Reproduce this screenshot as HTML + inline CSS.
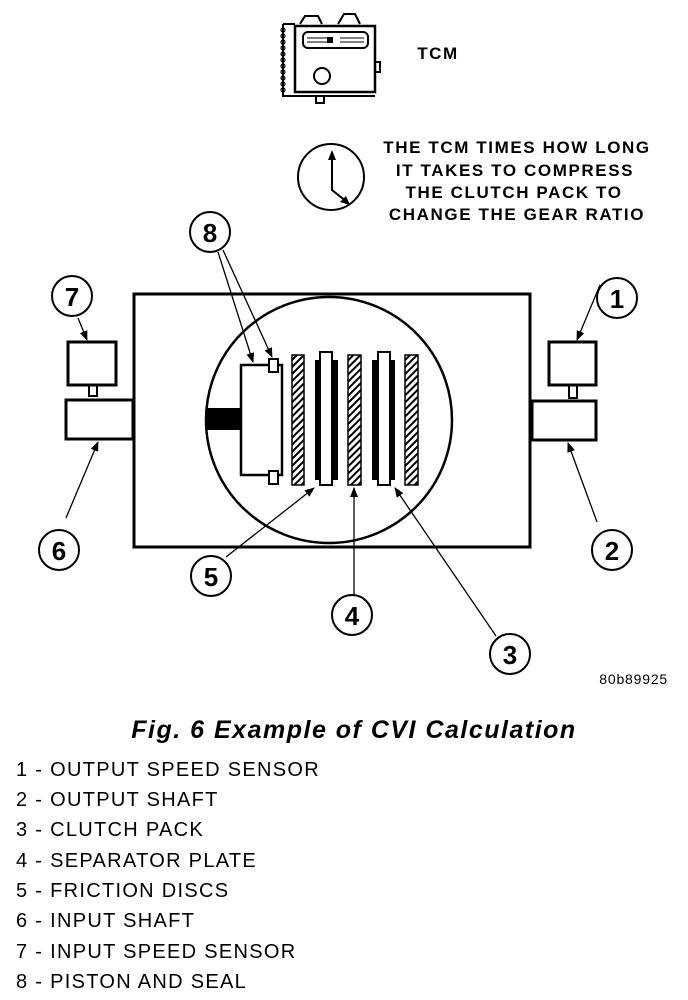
<!DOCTYPE html>
<html><head><meta charset="utf-8"><style>
body{margin:0;background:#fff;width:688px;height:1000px;overflow:hidden;font-family:"Liberation Sans",Arial,sans-serif}
svg{position:absolute;left:0;top:0}
.l{position:absolute;left:16px;font-size:20px;color:#000;letter-spacing:1.3px}
</style></head><body>
<svg width="688" height="1000" viewBox="0 0 688 1000">
<defs>
<pattern id="h" width="5" height="5" patternUnits="userSpaceOnUse" patternTransform="rotate(45)"><rect width="5" height="5" fill="#fff"/><rect width="2" height="5" fill="#000"/></pattern>
<marker id="a" markerWidth="10" markerHeight="8" refX="9" refY="4" orient="auto" markerUnits="userSpaceOnUse"><path d="M0,0 L10,4 L0,8 Z" fill="#000"/></marker>
</defs>
<g fill="none" stroke="#000" stroke-width="2">
<rect x="295" y="26" width="80" height="66" stroke-width="2.5"/>
<path d="M283,24 H295 M283,24 V96 H295 M295,96 H375 M300,24 L305,16 H318 L322,24 M338,24 L344,14 H355 L360,24 M375,62 h5 v10 h-5 M316,96 v7 h8 v-7"/>
<g stroke-width="1.2"><circle cx="283" cy="30" r="2"/><circle cx="283" cy="36" r="2"/><circle cx="283" cy="42" r="2"/><circle cx="283" cy="48" r="2"/><circle cx="283" cy="54" r="2"/><circle cx="283" cy="60" r="2"/><circle cx="283" cy="66" r="2"/><circle cx="283" cy="72" r="2"/><circle cx="283" cy="78" r="2"/><circle cx="283" cy="84" r="2"/><circle cx="283" cy="90" r="2"/></g>
<rect x="303" y="32" width="65" height="16" rx="5"/>
<line x1="307" y1="38" x2="330" y2="38" stroke-width="1"/><line x1="340" y1="38" x2="364" y2="38" stroke-width="1"/>
<line x1="307" y1="42" x2="330" y2="42" stroke-width="1"/><line x1="340" y1="42" x2="364" y2="42" stroke-width="1"/>
<circle cx="322" cy="76" r="8"/>
<circle cx="331" cy="177" r="33"/>
<path d="M332,158 V190 L347,202"/>
<rect x="134" y="294" width="396" height="253" stroke-width="3"/>
<circle cx="329" cy="420" r="123" stroke-width="2.5"/>
<rect x="68" y="342" width="48" height="43" stroke-width="3"/>
<rect x="89" y="385" width="8" height="11"/>
<rect x="66" y="400" width="67" height="39" stroke-width="3"/>
<rect x="549" y="342" width="47" height="43" stroke-width="3"/>
<rect x="569" y="385" width="8" height="13"/>
<rect x="532" y="401" width="64" height="39" stroke-width="3"/>
<rect x="241" y="365" width="41" height="110" stroke-width="2.5"/>
<rect x="269" y="359" width="9" height="13" fill="#fff"/>
<rect x="269" y="471" width="9" height="13" fill="#fff"/>
</g>
<rect x="327" y="37" width="6" height="6" fill="#000"/>
<rect x="207" y="408" width="34" height="22" fill="#000"/>
<g stroke="#000" stroke-width="1.5">
<rect x="292" y="355" width="12" height="130" fill="url(#h)"/>
<rect x="348" y="355" width="13" height="130" fill="url(#h)"/>
<rect x="405" y="355" width="13" height="130" fill="url(#h)"/>
</g>
<rect x="315" y="360" width="23" height="120" fill="#000"/>
<rect x="320" y="352" width="12" height="133" fill="#fff" stroke="#000" stroke-width="2"/>
<rect x="372" y="360" width="23" height="120" fill="#000"/>
<rect x="378" y="352" width="12" height="133" fill="#fff" stroke="#000" stroke-width="2"/>
<path d="M332,150 l-4,10 h8 Z M350,205 l-10,-3 l6,-6 Z" fill="#000"/>
<g fill="#fff" stroke="#000" stroke-width="2">
<circle cx="210" cy="232" r="20"/><circle cx="72" cy="296" r="20"/><circle cx="617" cy="298" r="20"/>
<circle cx="59" cy="550" r="20"/><circle cx="612" cy="550" r="20"/><circle cx="211" cy="576" r="20"/>
<circle cx="352" cy="615" r="20"/><circle cx="510" cy="654" r="20"/>
</g>
<g font-family="Liberation Sans,Arial,sans-serif" font-weight="bold" font-size="26" text-anchor="middle">
<text x="210" y="242">8</text><text x="72" y="306">7</text><text x="617" y="308">1</text>
<text x="59" y="560">6</text><text x="612" y="560">2</text><text x="211" y="586">5</text>
<text x="352" y="625">4</text><text x="510" y="664">3</text>
</g>
<g stroke="#000" stroke-width="1.3" marker-end="url(#a)">
<line x1="218" y1="252" x2="253" y2="362"/>
<line x1="223" y1="250" x2="272" y2="357"/>
<line x1="78" y1="318" x2="87" y2="340"/>
<line x1="66" y1="518" x2="98" y2="442"/>
<line x1="600" y1="285" x2="577" y2="340"/>
<line x1="597" y1="522" x2="568" y2="443"/>
<line x1="226" y1="557" x2="314" y2="488"/>
<line x1="354" y1="595" x2="354" y2="488"/>
<line x1="496" y1="636" x2="395" y2="488"/>
</g>
<g font-family="Liberation Sans,Arial,sans-serif" font-weight="bold" font-size="17" text-anchor="middle" letter-spacing="1.6">
<text x="438" y="59">TCM</text>
<text x="517" y="153">THE TCM TIMES HOW LONG</text>
<text x="515" y="176">IT TAKES TO COMPRESS</text>
<text x="514" y="198">THE CLUTCH PACK TO</text>
<text x="517" y="220">CHANGE THE GEAR RATIO</text>
</g>
<text x="668" y="684" font-family="Liberation Sans,Arial,sans-serif" font-size="14" letter-spacing="0.8" text-anchor="end">80b89925</text>
<text x="354" y="738" font-family="Liberation Sans,Arial,sans-serif" font-weight="bold" font-style="italic" font-size="25" letter-spacing="1.5" text-anchor="middle">Fig. 6 Example of CVI Calculation</text>
</svg>
<div class="l" style="top:759px">1 - OUTPUT SPEED SENSOR</div>
<div class="l" style="top:789px">2 - OUTPUT SHAFT</div>
<div class="l" style="top:819px">3 - CLUTCH PACK</div>
<div class="l" style="top:850px">4 - SEPARATOR PLATE</div>
<div class="l" style="top:880px">5 - FRICTION DISCS</div>
<div class="l" style="top:910px">6 - INPUT SHAFT</div>
<div class="l" style="top:941px">7 - INPUT SPEED SENSOR</div>
<div class="l" style="top:971px">8 - PISTON AND SEAL</div>
</body></html>
